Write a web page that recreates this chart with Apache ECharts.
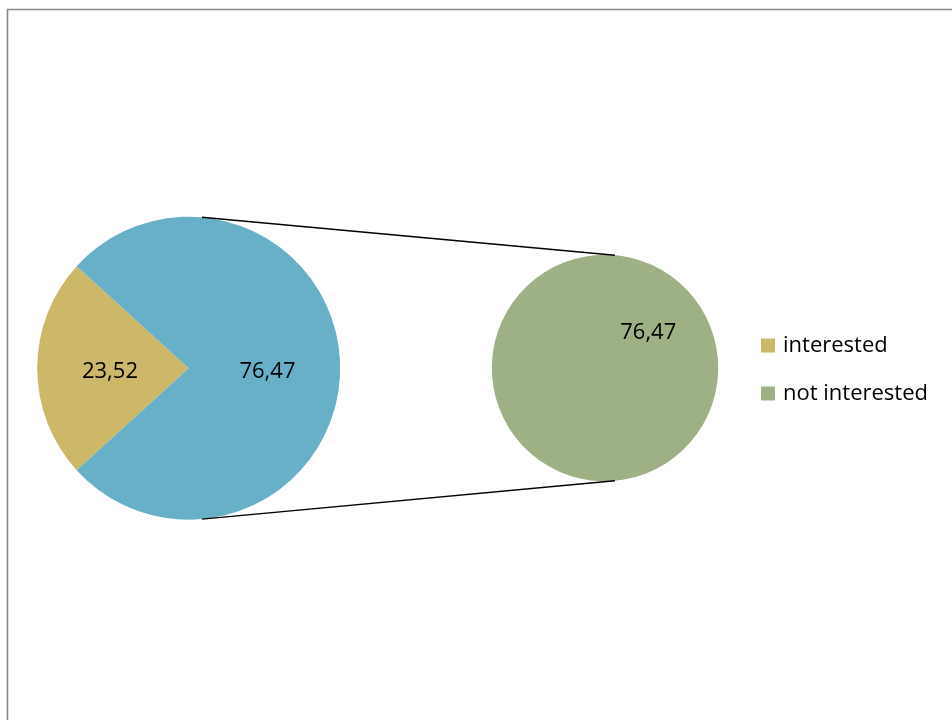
<!DOCTYPE html>
<html>
<head>
<meta charset="utf-8">
<script src="https://cdn.jsdelivr.net/npm/echarts@6/dist/echarts.min.js"></script>
<style>
  html, body { margin: 0; padding: 0; background: #fff; }
  #chart { width: 952px; height: 720px; }
</style>
</head>
<body>
<div id="chart"></div>
<script>
// ---- data ----
const categories = ['interested', 'not interested'];
const mainValues = [23.52, 76.47];          // interested, "other" (split out)
const secondaryValues = [76.47];            // not interested
const otherLabel = 'Other';

// ---- layout / style ----
const FONT = '"Open Sans", "Noto Sans", sans-serif';
const colors = { interested: '#CDB869', other: '#68AFC8', notInterested: '#9DB185' };
const c1 = [188.7, 368.2], r1 = 151.5;
const c2 = [605, 368], r2 = 113.2;
const connectAngle = 85 * Math.PI / 180;

const fmt = v => v.toFixed(2).replace('.', ',');
const total = mainValues.reduce((a, b) => a + b, 0);
const startMain = 180 + 360 * mainValues[0] / total / 2;

function edgePoint(c, r, sign) {
  return [c[0] + r * Math.cos(connectAngle), c[1] - sign * r * Math.sin(connectAngle)];
}
const p1t = edgePoint(c1, r1, 1), p1b = edgePoint(c1, r1, -1);
const p2t = edgePoint(c2, r2, 1), p2b = edgePoint(c2, r2, -1);

function labelStyle(padTop) {
  return {
    show: true,
    position: 'inside',
    color: '#000',
    fontFamily: FONT,
    fontSize: 22,
    formatter: p => '{v|' + fmt(p.value) + '}',
    rich: {
      v: { color: '#000', fontFamily: FONT, fontSize: 22, padding: [padTop, 0, 0, 0] }
    }
  };
}

const chart = echarts.init(document.getElementById('chart'), null, { renderer: 'canvas' });
chart.setOption({
  animation: false,
  backgroundColor: '#fff',
  legend: {
    data: categories,
    orient: 'vertical',
    left: 761,
    top: 333,
    padding: 0,
    icon: 'rect',
    itemWidth: 14,
    itemHeight: 14,
    itemGap: 23,
    textStyle: { color: '#000', fontFamily: FONT, fontSize: 22, lineHeight: 25, padding: [0, 0, 0, 3] },
    selectedMode: false
  },
  graphic: [
    {
      type: 'rect',
      shape: { x: 7.5, y: 9.5, width: 1200, height: 1200 },
      style: { fill: 'none', stroke: '#888', lineWidth: 1.6 },
      silent: true
    },
    {
      type: 'line',
      shape: { x1: p1t[0], y1: p1t[1], x2: p2t[0], y2: p2t[1] },
      style: { stroke: '#000', lineWidth: 1.5 },
      silent: true, z: 10
    },
    {
      type: 'line',
      shape: { x1: p1b[0], y1: p1b[1], x2: p2b[0], y2: p2b[1] },
      style: { stroke: '#000', lineWidth: 1.5 },
      silent: true, z: 10
    }
  ],
  series: [
    {
      type: 'pie',
      center: c1,
      radius: r1,
      startAngle: startMain,
      clockwise: true,
      avoidLabelOverlap: false,
      label: labelStyle(8),
      labelLine: { show: false },
      emphasis: { disabled: true },
      itemStyle: { borderWidth: 0 },
      data: [
        { name: categories[0], value: mainValues[0], itemStyle: { color: colors.interested } },
        { name: otherLabel, value: mainValues[1], itemStyle: { color: colors.other } }
      ]
    },
    {
      type: 'pie',
      center: c2,
      radius: r2,
      startAngle: 223.5,
      clockwise: true,
      avoidLabelOverlap: false,
      label: labelStyle(12),
      labelLine: { show: false },
      emphasis: { disabled: true },
      itemStyle: { borderWidth: 0 },
      data: [
        { name: categories[1], value: secondaryValues[0], itemStyle: { color: colors.notInterested } }
      ]
    }
  ]
});
</script>
</body>
</html>
